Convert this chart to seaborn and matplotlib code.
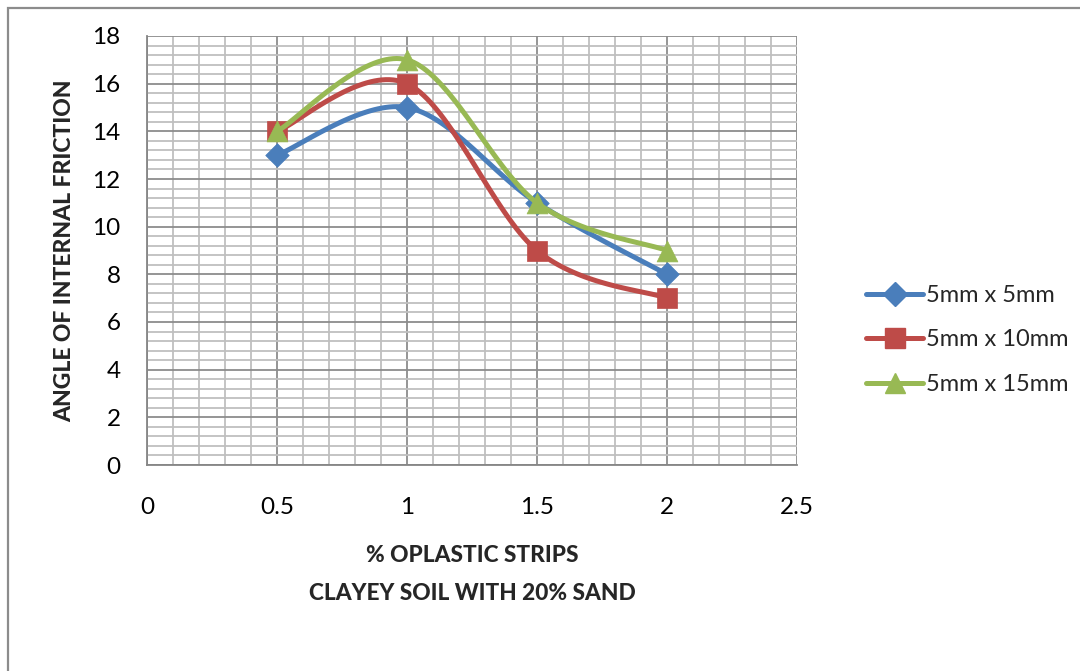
import numpy as np
import pandas as pd
import seaborn as sns
import matplotlib
matplotlib.use("Agg")
import matplotlib.pyplot as plt
from matplotlib.lines import Line2D
from matplotlib.patches import Rectangle
from matplotlib.ticker import MultipleLocator

# Data
strip_pct = [0.5, 1.0, 1.5, 2.0]
series_names = ["5mm x 5mm", "5mm x 10mm", "5mm x 15mm"]
friction_5x5 = [13, 15, 11, 8]
friction_5x10 = [14, 16, 9, 7]
friction_5x15 = [14, 17, 11, 9]
x_ticks = [0, 0.5, 1, 1.5, 2, 2.5]
y_ticks = [0, 2, 4, 6, 8, 10, 12, 14, 16, 18]

colors = ["#4A7EBB", "#BE4B48", "#98B954"]
markers = ["D", "s", "^"]
marker_sizes = [12, 14, 15]

sns.set_theme(style="white")
plt.rcParams["font.family"] = ["Lato", "DejaVu Sans"]


def smooth_curve(xs, ys, n=40):
    """Bezier smoothing with Catmull-Rom style control points."""
    p = np.column_stack([xs, ys]).astype(float)
    k = len(p)
    out = []
    for i in range(k - 1):
        p0 = p[i - 1] if i > 0 else p[i]
        p1 = p[i]
        p2 = p[i + 1]
        p3 = p[i + 2] if i + 2 < k else p[i + 1]
        c1 = p1 + (p2 - p0) / 6.0
        c2 = p2 - (p3 - p1) / 6.0
        t = np.linspace(0, 1, n)[:, None]
        seg = ((1 - t) ** 3) * p1 + 3 * ((1 - t) ** 2) * t * c1 + 3 * (1 - t) * t ** 2 * c2 + t ** 3 * p2
        out.append(seg if i == 0 else seg[1:])
    out = np.vstack(out)
    return out[:, 0], out[:, 1]


fig = plt.figure(figsize=(10.8, 6.71), dpi=100)
ax = fig.add_axes([147 / 1080, 1 - 465 / 671, 650 / 1080, 429 / 671])

# chart frame
fig.patches.append(Rectangle((8 / 1080, -0.01), 1.02, 1 - 8 / 671 + 0.01, transform=fig.transFigure,
                             fill=False, edgecolor="#8C8C8C", linewidth=1.6, zorder=0))

all_series = [friction_5x5, friction_5x10, friction_5x15]
handles = []
for i, (name, vals) in enumerate(zip(series_names, all_series)):
    sx, sy = smooth_curve(strip_pct, vals)
    curve = pd.DataFrame({"x": sx, "y": sy})
    pts = pd.DataFrame({"x": strip_pct, "y": vals})
    sns.lineplot(data=curve, x="x", y="y", sort=False, ax=ax, color=colors[i],
                 linewidth=3.6, zorder=3 + 2 * i, estimator=None)
    sns.scatterplot(data=pts, x="x", y="y", ax=ax, color=colors[i], marker=markers[i],
                    s=marker_sizes[i] ** 2, edgecolor=colors[i], linewidth=0.5, zorder=4 + 2 * i)
    handles.append(Line2D([], [], color=colors[i], linewidth=3.6, marker=markers[i],
                          markersize=marker_sizes[i], markeredgecolor=colors[i]))

ax.set_xlim(0, 2.5)
ax.set_ylim(0, 18)
ax.set_xticks(x_ticks)
ax.set_xticklabels([f"{v:g}" for v in x_ticks])
ax.set_yticks(y_ticks)
ax.set_yticklabels([f"{v:g}" for v in y_ticks])
ax.xaxis.set_minor_locator(MultipleLocator(0.1))
ax.yaxis.set_minor_locator(MultipleLocator(0.4))
ax.grid(which="major", color="#8C8C8C", linewidth=1.3, zorder=1)
ax.grid(which="minor", color="#BFBFBF", linewidth=1.3, zorder=1)
ax.set_axisbelow(True)
for side in ["top", "right"]:
    ax.spines[side].set_visible(False)
for side in ["left", "bottom"]:
    ax.spines[side].set_color("#868686")
    ax.spines[side].set_linewidth(1.3)
ax.tick_params(axis="both", which="major", direction="out", length=8, width=1.3,
               color="#868686", labelsize=17.5, labelcolor="black")
ax.tick_params(axis="x", pad=15)
ax.tick_params(axis="y", pad=11)
ax.tick_params(which="minor", length=0)

ax.set_xlabel("")
ax.set_ylabel("ANGLE OF INTERNAL FRICTION", fontsize=16.5, fontweight="black", labelpad=12)
fig.text(472 / 1080, 1 - 556 / 671, "% OPLASTIC STRIPS", ha="center", va="center",
         fontsize=16.3, fontweight="black")
fig.text(472 / 1080, 1 - 593 / 671, "CLAYEY SOIL WITH 20% SAND", ha="center", va="center",
         fontsize=16.3, fontweight="black")

fig.legend(handles, series_names, loc="center left", bbox_to_anchor=(845 / 1080, 1 - 340 / 671),
           frameon=False, fontsize=17, handlelength=2.4, handletextpad=0.15, labelspacing=1.0)

fig.savefig("out.png", dpi=100)
